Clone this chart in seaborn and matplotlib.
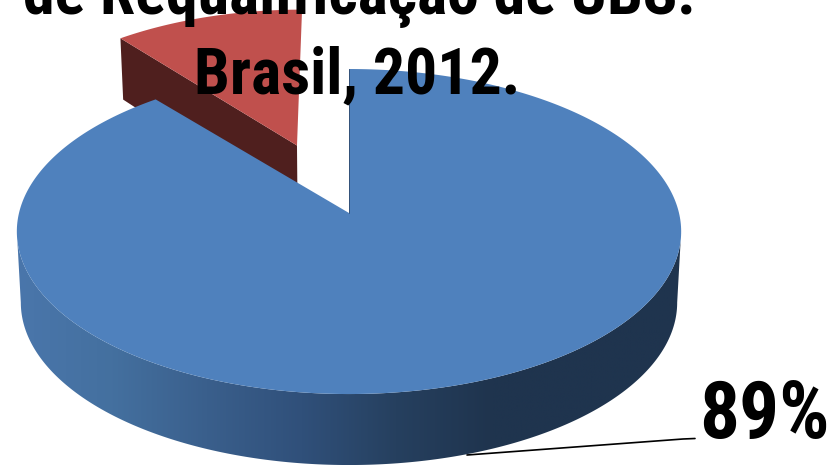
import numpy as np
import matplotlib
matplotlib.use('Agg')
import matplotlib.pyplot as plt
import seaborn as sns

# data
shares = [89, 11]
title_lines = ['de Requalificação de UBS.', 'Brasil, 2012.']
side_colors = ['#4a76ab', '#44709f', '#3a5f8c', '#30507a', '#26405f', '#1f344e', '#1f344e', '#1f344e']

sns.set_theme(style='white')
plt.rcParams['font.family'] = ['Roboto Condensed', 'DejaVu Sans']

# 3d look: disc coordinates are projected onto the picture, near side is bigger
CX, CY, RX, RY = 349, 213, 330, 160.4
PERSP = -0.114
DEPTH = 71
EXPLODE = 0.47


def project(u, v, z=0.0):
    w = 1 + PERSP * v
    shrink = 1 - 0.012 * z
    drop = DEPTH * np.minimum(1, 1 + 0.11 * v)
    return CX + RX * u * shrink / w, CY + RY * v / w + drop * z


# angles measured clockwise from the back of the pie
ang = np.cumsum([0] + shares) / sum(shares) * 2 * np.pi
blue_a = np.linspace(ang[0], ang[1], 400)
red_a = np.linspace(ang[1], ang[2], 60)
mid = (ang[1] + ang[2]) / 2
off_u, off_v = EXPLODE * np.sin(mid), -EXPLODE * np.cos(mid)

fig, ax = plt.subplots(figsize=(8.31, 4.65), dpi=100)
fig.subplots_adjust(0, 0, 1, 1)
ax.axis('off')

# side of the big slice, horizontal gradient clipped to the rim outline
t = np.linspace(np.pi / 2 + 0.114, 3 * np.pi / 2 - 0.114, 300)
x0, y0 = project(np.sin(t), -np.cos(t))
x1, y1 = project(np.sin(t), -np.cos(t), 1)
cmap = sns.blend_palette(side_colors, as_cmap=True)
grad = ax.imshow(np.linspace(0, 1, 256)[None, :], cmap=cmap, aspect='auto',
                 extent=(17, 681, 465, 200), zorder=1)
rim, = ax.fill(np.r_[x0, x1[::-1]], np.r_[y0, y1[::-1]], color='none', lw=0)
grad.set_clip_path(rim)

# exploded slice: inner wall, then top
ru, rv = np.sin(red_a) * 0.98 + off_u, -np.cos(red_a) * 1.04 + off_v
ax_, ay_ = project(off_u, off_v)
rx_, ry_ = project(ru[0], rv[0])
bx_, by_ = project(off_u, off_v, 1)
cx_, cy_ = project(ru[0], rv[0], 1)
ax.fill(np.r_[ax_, rx_, cx_, bx_] - 2, np.r_[ay_, ry_, cy_, by_], color='#4f1f1e', lw=0, zorder=2)
x_top, y_top = project(ru, rv)
ax.fill(np.r_[ax_, x_top] - 2, np.r_[ay_, y_top], color='#c0504d', lw=0, zorder=2)

# top of the big slice
bx, by = project(np.sin(blue_a), -np.cos(blue_a))
ax.fill(np.r_[CX, bx], np.r_[CY, by], color='#4f81bd', lw=0, zorder=3)
ax.plot([CX, CX], [CY, by[0]], color='#2f4a6e', lw=0.6, zorder=3)

ax.set_xlim(0, 831)
ax.set_ylim(465, 0)

# texts
ax.text(359, 14, title_lines[0], fontsize=46, fontweight='bold', color='black',
        ha='center', va='baseline', zorder=5)
ax.text(357.5, 93, title_lines[1], fontsize=46, fontweight='bold', color='black',
        ha='center', va='baseline', zorder=5)
ax.plot([467, 683, 695], [455, 439, 438.5], color='black', lw=1.2, zorder=4)
ax.text(764, 438, f'{shares[0]}%', fontsize=57, fontweight='bold', color='black',
        ha='center', va='baseline', zorder=5)

fig.savefig('out.png', dpi=100)
